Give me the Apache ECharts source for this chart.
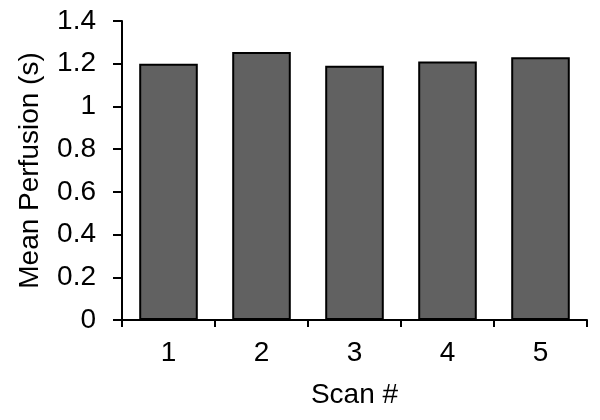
<!DOCTYPE html>
<html><head><meta charset="utf-8">
<script src="https://cdn.jsdelivr.net/npm/echarts@6/dist/echarts.min.js"></script>
<style>html,body{margin:0;padding:0;background:#fff}#c{width:600px;height:420px}</style>
</head><body><div id="c"></div>
<script>
const categories = ['1', '2', '3', '4', '5'];
const meanPerfusion = [1.20, 1.255, 1.19, 1.21, 1.23];
const yTicks = [0, 0.2, 0.4, 0.6, 0.8, 1, 1.2, 1.4];

const chart = echarts.init(document.getElementById('c'), null, {renderer: 'canvas'});
const font = 'Liberation Sans, Arial, sans-serif';
chart.setOption({
  animation: false,
  backgroundColor: '#ffffff',
  grid: {left: 122, right: 13, top: 21, bottom: 100, containLabel: false},
  xAxis: {
    type: 'category',
    data: categories,
    boundaryGap: true,
    name: 'Scan #',
    nameLocation: 'middle',
    nameGap: 61,
    nameTextStyle: {fontFamily: font, fontSize: 28, color: '#000'},
    axisLine: {lineStyle: {color: '#000', width: 2}},
    axisTick: {show: true, inside: false, length: 7, alignWithLabel: false, lineStyle: {color: '#000', width: 2}},
    axisLabel: {fontFamily: font, fontSize: 28, color: '#000', margin: 19},
    splitLine: {show: false}
  },
  yAxis: {
    type: 'value',
    min: yTicks[0],
    max: yTicks[yTicks.length - 1],
    interval: 0.2,
    name: 'Mean Perfusion (s)',
    nameLocation: 'middle',
    nameGap: 78,
    nameTextStyle: {fontFamily: font, fontSize: 28, color: '#000'},
    axisLine: {show: true, lineStyle: {color: '#000', width: 2}},
    axisTick: {show: true, inside: false, length: 9, lineStyle: {color: '#000', width: 2}},
    axisLabel: {fontFamily: font, fontSize: 28, color: '#000', margin: 26,
      formatter: v => String(Math.round(v * 10) / 10)},
    splitLine: {show: false}
  },
  series: [{
    type: 'bar',
    data: meanPerfusion,
    barWidth: '63%',
    itemStyle: {color: '#616161', borderColor: '#000', borderWidth: 2}
  }]
});
</script></body></html>
